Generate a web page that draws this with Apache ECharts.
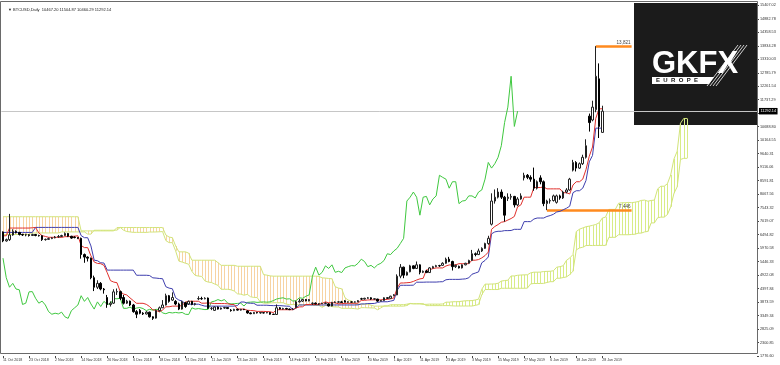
<!DOCTYPE html>
<html><head><meta charset="utf-8">
<script src="https://cdn.jsdelivr.net/npm/echarts@6/dist/echarts.min.js"></script>
<style>html,body{margin:0;padding:0;background:#fff}#c{width:780px;height:365px}</style>
</head><body><div id="c"></div>
<script>
const headerText = '\u25BC BTCUSD,Daily  10467.20 11504.87 10460.29 11292.14';
const xTickLabels = ['11 Oct 2018','23 Oct 2018','2 Nov 2018','14 Nov 2018','26 Nov 2018','6 Dec 2018','18 Dec 2018','31 Dec 2018','11 Jan 2019','23 Jan 2019','4 Feb 2019','14 Feb 2019','26 Feb 2019','8 Mar 2019','20 Mar 2019','1 Apr 2019','11 Apr 2019','23 Apr 2019','3 May 2019','15 May 2019','27 May 2019','6 Jun 2019','18 Jun 2019','28 Jun 2019'];
const yTickValues = [1776.60,2300.85,2825.09,3349.34,3873.59,4397.84,4922.08,5446.33,5970.58,6494.82,7019.07,7543.32,8067.56,8591.81,9116.06,9640.31,10164.55,10688.80,11213.05,11737.29,12261.54,12785.79,13310.03,13834.28,14358.53,14882.78,15407.02];
const hiddenYLabel = 11213.05;

const opens = [6600,6250,6300,6480,6620,6580,6500,6480,6490,6460,
6500,6460,6450,6300,6310,6340,6370,6410,6420,6460,
6540,6430,6400,6380,6350,5720,5620,5580,4820,4450,
4600,4380,4050,3780,3830,4270,4280,4050,3830,3910,
3760,3500,3550,3440,3410,3480,3300,3250,3540,3650,
3760,4120,3950,3900,3800,3600,3850,3800,3900,3780,
4000,4010,4000,4030,3630,3550,3680,3600,3640,3660,
3560,3540,3590,3560,3590,3530,3450,3420,3470,3450,
3460,3450,3470,3400,3390,3650,3600,3620,3600,3580,
3650,3880,3910,3970,3920,3820,3830,3800,3810,3820,
3800,3720,3860,3870,3880,3920,3870,3880,3870,3880,
4000,3990,4020,4040,3990,3990,3910,3930,4040,4020,
4120,4150,4880,5230,4920,5050,5280,5180,5320,5030,
5080,5020,5200,5250,5290,5300,5380,5540,5450,5250,
5260,5200,5320,5380,5490,5750,5720,5860,5960,6150,
6900,7800,7950,8150,7950,7900,7950,7980,7650,7880,
8700,8800,8720,8650,8300,8700,8550,7700,7800,7820,
7750,8000,7920,8150,8230,9000,9300,9080,9250,9500,
11100,10950,11350,12550,10467.20];
const closes = [6250,6300,6480,6620,6580,6500,6480,6490,6460,6500,
6460,6450,6300,6310,6340,6370,6400,6420,6460,6540,
6430,6360,6380,6350,5720,5620,5580,4820,4450,4600,
4380,4350,3780,3830,4270,4280,4020,3830,3910,3760,
3500,3400,3440,3410,3480,3300,3240,3540,3650,3760,
4120,3900,4050,3800,3600,3880,3700,3900,3780,3810,
4010,4000,4020,3630,3630,3680,3600,3640,3660,3620,
3540,3590,3560,3590,3580,3450,3420,3470,3450,3470,
3450,3470,3400,3390,3650,3600,3620,3600,3580,3590,
3880,3910,3970,3920,3970,3830,3800,3810,3820,3830,
3720,3860,3870,3880,3860,3870,3880,3870,3880,3930,
3990,4020,4040,3990,4000,3910,3930,4040,4020,4100,
4150,4880,5230,4920,5030,5280,5180,5320,5030,5070,
5020,5200,5250,5290,5280,5380,5540,5450,5250,5300,
5200,5320,5380,5490,5750,5720,5860,5960,6150,6350,
7800,7950,8150,7950,7250,7950,7980,7650,7880,8000,
8800,8720,8650,8300,8550,8550,7700,7800,7820,8000,
8000,7920,8150,8230,8650,9300,9080,9250,9500,9950,
10850,11450,12650,10700,11292.14];
const lows = [6200,6220,6250,6450,6540,6460,6440,6430,6420,6440,
6430,6420,6250,6260,6290,6320,6350,6370,6400,6440,
6400,6330,6350,6320,5560,5400,5450,4760,4300,4380,
4330,4200,3650,3700,3800,4150,3950,3780,3800,3720,
3460,3250,3400,3370,3390,3270,3180,3230,3500,3640,
3740,3850,3920,3750,3560,3580,3650,3760,3750,3740,
3950,3960,3980,3600,3560,3530,3580,3580,3610,3600,
3500,3520,3540,3540,3560,3420,3400,3410,3430,3420,
3430,3440,3380,3370,3380,3580,3580,3580,3560,3570,
3640,3860,3880,3900,3900,3760,3780,3760,3800,3800,
3700,3710,3840,3850,3840,3860,3850,3850,3850,3870,
3960,3970,4000,3960,3970,3880,3900,3920,4000,4010,
4100,4140,4800,4800,4900,5030,5150,5160,4950,5000,
5000,5010,5180,5230,5240,5280,5360,5420,5100,5200,
5180,5180,5300,5370,5470,5650,5700,5820,5940,6100,
6850,7700,7900,7880,7000,7800,7850,7550,7600,7850,
8600,8650,8550,8200,8250,8450,7600,7446,7700,7780,
7700,7850,7880,8100,8200,8950,8950,9050,9200,9450,
10500,10900,11250,10250,10460.29];
const highs = [6620,6340,7300,6700,6660,6600,6530,6530,6510,6530,
6520,6490,6470,6340,6380,6400,6440,6480,6490,6580,
6560,6450,6430,6400,6380,5760,5650,5600,4900,4720,
4650,4420,4150,3900,4370,4400,4320,4150,3960,3930,
3800,3560,3600,3480,3520,3500,3320,3580,3700,3950,
4200,4150,4250,3950,3850,3920,3880,3930,3920,3840,
4100,4080,4060,4050,3680,3700,3700,3660,3690,3680,
3600,3610,3620,3610,3610,3560,3470,3490,3490,3490,
3480,3490,3480,3420,3780,3680,3650,3650,3620,3640,
3920,4000,3990,3990,3990,3860,3860,3830,3850,3860,
3830,3880,3900,3910,3920,3950,3900,3900,3900,3950,
4040,4040,4070,4060,4020,4000,3950,4060,4050,4120,
4180,4950,5350,5250,5060,5320,5300,5450,5340,5100,
5120,5230,5280,5320,5320,5420,5600,5630,5480,5330,
5290,5340,5400,5520,5900,5800,5950,6000,6180,6450,
8100,8250,8300,8250,8000,8100,8080,8000,7950,8100,
8900,8850,8800,9100,8600,8800,8600,7850,7900,8050,
8050,8050,8200,8300,8700,9400,9350,9300,9600,10200,
11200,11700,13821,13150,11504.87];

const tenkan = [6450,6450,6750,6750,6750,6750,6750,6750,6750,6760,
6775,6560,6455,6425,6390,6390,6390,6390,6385,6415,
6415,6420,6435,6450,6070,5990,5990,5670,5430,5375,
5365,5300,5015,4705,4650,4625,4275,4185,4150,4035,
3930,3825,3825,3825,3785,3700,3570,3555,3490,3565,
3690,3690,3715,3715,3715,3740,3875,3905,3905,3905,
3905,3830,3830,3840,3830,3815,3815,3815,3815,3805,
3780,3775,3600,3600,3600,3555,3545,3540,3510,3510,
3510,3505,3495,3465,3575,3575,3575,3575,3575,3575,
3645,3685,3690,3780,3780,3780,3780,3785,3820,3880,
3845,3845,3845,3805,3810,3825,3825,3825,3825,3830,
3940,3940,3955,3960,3960,3960,3960,3970,3975,4000,
4030,4415,4615,4615,4625,4635,4675,4730,4775,4795,
5125,5125,5175,5200,5200,5200,5275,5315,5315,5320,
5365,5365,5365,5365,5500,5500,5525,5590,5680,5815,
6700,6810,6885,6975,7000,7060,7120,7200,7575,7650,
7950,7950,7950,8325,8325,8325,8350,8273,8273,8273,
8273,8273,8123,8123,8073,8423,8550,8550,8650,9025,
9540,9900,11010,11385,11385];
const kijun = [6580,6580,6580,6580,6580,6580,6580,6580,6580,6580,
6775,6775,6775,6775,6775,6775,6775,6775,6775,6775,
6775,6775,6775,6775,6455,6375,6375,6055,5500,5480,
5400,5390,5115,5115,5115,5115,5115,5115,5115,5115,
5115,4915,4915,4915,4915,4905,4815,4805,4790,4780,
4470,4415,4390,4040,3950,3915,3800,3790,3790,3790,
3790,3750,3715,3715,3715,3715,3715,3715,3715,3715,
3715,3715,3740,3875,3875,3835,3825,3825,3750,3750,
3750,3750,3740,3735,3735,3735,3725,3715,3710,3575,
3645,3760,3760,3760,3760,3760,3760,3760,3760,3760,
3760,3760,3760,3760,3760,3760,3760,3760,3760,3765,
3800,3800,3815,3815,3820,3855,3885,3885,3885,3910,
3940,4325,4525,4525,4525,4525,4530,4645,4645,4645,
4650,4650,4650,4650,4660,4665,4740,4755,4755,4755,
4755,4765,4775,4815,4955,5000,5045,5400,5490,5625,
6525,6600,6625,6625,6650,6650,6655,6700,6700,6700,
7000,7000,7000,7100,7140,7140,7140,7200,7235,7285,
7375,7400,7460,7520,7600,8125,8200,8200,8300,8600,
9323,9573,10633,10633,10633];
const spanA = [6500,6500,6500,6500,6500,6500,6500,6500,6500,6560,
6560,6560,6560,6560,6560,6560,6560,6560,6600,6600,
6600,6600,6600,6600,6600,6600,6515,6515,6665,6665,
6665,6665,6665,6665,6665,6670,6775,6668,6615,6600,
6583,6583,6583,6583,6580,6595,6595,6598,6605,6613,
6263,6183,6183,5863,5465,5428,5383,5345,5065,4910,
4883,4870,4695,4650,4633,4575,4523,4370,4370,4370,
4350,4303,4193,4180,4140,4173,4080,4053,4053,3878,
3833,3828,3838,3848,3848,3848,3848,3790,3773,3778,
3773,3765,3765,3765,3765,3760,3748,3745,3670,3738,
3738,3695,3685,3683,3630,3630,3630,3628,3618,3600,
3655,3655,3650,3645,3643,3575,3645,3723,3725,3770,
3770,3770,3770,3773,3790,3820,3803,3803,3803,3783,
3785,3793,3793,3793,3793,3798,3870,3870,3885,3888,
3890,3908,3923,3928,3930,3955,3985,4370,4570,4570,
4575,4580,4603,4688,4710,4720,4888,4888,4913,4925,
4930,4933,5008,5035,5035,5038,5060,5065,5070,5090,
5228,5250,5285,5495,5585,5720,6613,6705,6755,6800,
6825,6855,6888,6950,7138,7175,7475,7475,7475,7713,
7733,7733,7745,7737,7754,7779,7824,7837,7792,7822,
7837,8274,8375,8375,8475,8813,9432,9737,10822,11009,11009];
const spanB = [7190,7190,7190,7190,7190,7190,7190,7190,7190,7190,
7190,7190,7190,7190,7190,7190,7190,7190,7190,7190,
7190,7190,7190,7190,6640,6640,6640,6640,6640,6640,
6640,6640,6640,6640,6640,6770,6770,6770,6770,6770,
6770,6770,6770,6770,6770,6770,6770,6770,6770,6770,
6480,6400,6375,6055,5825,5825,5825,5775,5500,5500,
5500,5500,5500,5500,5500,5500,5405,5300,5300,5300,
5300,5300,5265,5265,5265,5265,5265,5265,5265,5265,
4940,4920,4890,4880,4880,4880,4880,4880,4880,4880,
4880,4880,4880,4880,4880,4880,4880,4870,4815,4805,
4790,4780,4470,4415,4390,4040,3950,3915,3800,3790,
3790,3790,3790,3750,3715,3715,3715,3715,3715,3715,
3715,3715,3715,3715,3740,3810,3810,3810,3810,3810,
3735,3735,3735,3735,3735,3735,3735,3735,3725,3720,
3720,3720,3720,3720,3720,3745,3775,4160,4360,4360,
4360,4360,4360,4410,4410,4410,4410,4410,4410,4410,
4410,4415,4580,4595,4595,4595,4600,4635,4665,4665,
4800,4800,4825,4850,4940,5075,5900,5975,6005,6070,
6075,6070,6075,6075,6075,6075,6385,6390,6390,6490,
6490,6490,6490,6500,6510,6550,6555,6600,6620,6950,
6950,7150,7175,7175,7275,7575,8100,8350,9415,9460,9460];
const chikouShift = 26;
const lastPrice = 11292.14;
const levelValues = [13821, 7446];
const levelLabels = ['13,821', '7,446'];
const levelFrom = [182, 167];
const levelTo = [193, 193];

// ---- categories (broker weekday sessions) ----
const monthNames = ['Jan','Feb','Mar','Apr','May','Jun','Jul','Aug','Sep','Oct','Nov','Dec'];
const skipDays = ['2018-12-25', '2019-01-01'];
const nCategories = 232;
const categories = [];
{
  const d = new Date(Date.UTC(2018, 9, 11));
  while (categories.length < nCategories) {
    const wd = d.getUTCDay();
    const key = d.toISOString().slice(0, 10);
    if (wd !== 0 && wd !== 6 && skipDays.indexOf(key) < 0) {
      categories.push(d.getUTCDate() + ' ' + monthNames[d.getUTCMonth()] + ' ' + d.getUTCFullYear());
    }
    d.setUTCDate(d.getUTCDate() + 1);
  }
}

const candleData = opens.map((o, i) => [o, closes[i], lows[i], highs[i]]);
const chikou = closes.slice(chikouShift);
const kumo = spanA.map((a, i) => [i, a, spanB[i]]);
const yLabelValues = yTickValues.filter(v => v !== hiddenYLabel);
const showTick = (idx, val) => xTickLabels.indexOf(val) >= 0;

const COL = {
  tenkan: '#e0302c', kijun: '#3e3eae', chikou: '#3fc83f',
  span: '#d2e47a', kumoUp: '#d8ec86', kumoDown: '#f7d3a2',
  level: '#ff8a1e', text: '#333'
};
const fontFam = '"Liberation Sans", Arial, sans-serif';

const levelMarks = levelValues.map((v, k) => [
  { coord: [levelFrom[k], v],
    lineStyle: { color: COL.level, width: 2.5, type: 'solid' },
    label: { show: true, position: 'insideEndTop', formatter: levelLabels[k], fontSize: 4.6, color: '#444', distance: 1, fontFamily: fontFam } },
  { coord: [levelTo[k], v] }
]);

const chart = echarts.init(document.getElementById('c'), null, { renderer: 'canvas' });
chart.setOption({
  animation: false,
  backgroundColor: '#fff',
  title: { text: headerText, left: 3, top: 3, textStyle: { fontSize: 4, color: '#222', fontWeight: 'normal', fontFamily: fontFam } },
  grid: { left: 0, right: 23, top: 5, bottom: 9, containLabel: false },
  xAxis: {
    type: 'category', data: categories, boundaryGap: true,
    axisLine: { show: false },
    axisTick: { show: true, interval: showTick, alignWithLabel: true, length: 2, lineStyle: { color: '#444' } },
    axisLabel: { interval: showTick, fontSize: 3.6, color: COL.text, align: 'left', margin: 2, fontFamily: fontFam },
    splitLine: { show: false }
  },
  yAxis: {
    type: 'value', position: 'right', min: 1776.6, max: 15420, scale: true,
    axisLine: { show: false },
    axisTick: { show: true, length: 2, customValues: yTickValues, lineStyle: { color: '#444' } },
    axisLabel: { customValues: yLabelValues, fontSize: 3.8, color: COL.text, margin: 3, fontFamily: fontFam, formatter: v => v.toFixed(2) },
    splitLine: { show: false }
  },
  graphic: [
    { type: 'rect', z: 50, silent: true, shape: { x: 0.5, y: 1.5, width: 757, height: 352 }, style: { fill: 'none', stroke: '#6a6a6a', lineWidth: 1 } },
    { type: 'group', z: 100, silent: true, children: [
      { type: 'rect', shape: { x: 634, y: 3, width: 123, height: 122 }, style: { fill: '#1b1b1b' } },
      { type: 'text', style: { x: 652, y: 64, text: 'GKFX', font: 'bold 31px ' + fontFam, fill: '#fff', align: 'left', verticalAlign: 'middle', textAlign: 'left', textVerticalAlign: 'middle' } },
      { type: 'polygon', shape: { points: [[652, 77], [714, 77], [709, 84], [652, 84]] }, style: { fill: '#fff' } },
      { type: 'text', style: { x: 656, y: 80.7, text: 'E  U  R  O  P  E', font: 'bold 6px ' + fontFam, fill: '#111', align: 'left', verticalAlign: 'middle', textAlign: 'left', textVerticalAlign: 'middle' } },
      { type: 'line', shape: { x1: 707, y1: 86, x2: 738, y2: 45 }, style: { stroke: '#fff', lineWidth: 0.8 } },
      { type: 'line', shape: { x1: 710, y1: 86, x2: 741, y2: 45 }, style: { stroke: '#fff', lineWidth: 0.8 } },
      { type: 'line', shape: { x1: 713, y1: 86, x2: 744, y2: 45 }, style: { stroke: '#fff', lineWidth: 0.8 } },
      { type: 'line', shape: { x1: 716, y1: 86, x2: 747, y2: 45 }, style: { stroke: '#fff', lineWidth: 0.8 } }
    ] }
  ],
  series: [
    {
      type: 'custom', name: 'Kumo', data: kumo, z: 1, silent: true,
      encode: { x: 0, y: [1, 2] },
      renderItem: function (params, api) {
        const i = api.value(0);
        const pa = api.coord([i, api.value(1)]);
        const pb = api.coord([i, api.value(2)]);
        const x = Math.round(pa[0]) + 0.5;
        return { type: 'line', shape: { x1: x, y1: pa[1], x2: x, y2: pb[1] },
          style: { stroke: api.value(1) >= api.value(2) ? COL.kumoUp : COL.kumoDown, lineWidth: 1 } };
      }
    },
    { type: 'line', name: 'Senkou A', data: spanA, z: 2, symbol: 'none', silent: true, lineStyle: { color: COL.span, width: 1 } },
    { type: 'line', name: 'Senkou B', data: spanB, z: 2, symbol: 'none', silent: true, lineStyle: { color: COL.span, width: 1 } },
    { type: 'line', name: 'Chikou', data: chikou, z: 3, symbol: 'none', silent: true, lineStyle: { color: COL.chikou, width: 1 } },
    { type: 'line', name: 'Kijun', data: kijun, z: 3, symbol: 'none', silent: true, lineStyle: { color: COL.kijun, width: 1 } },
    { type: 'line', name: 'Tenkan', data: tenkan, z: 3, symbol: 'none', silent: true, lineStyle: { color: COL.tenkan, width: 1 } },
    {
      type: 'candlestick', name: 'BTCUSD', data: candleData, z: 4, clip: false, barWidth: 2,
      itemStyle: { color: '#ffffff', color0: '#000000', borderColor: '#222', borderColor0: '#000', borderWidth: 1 },
      markLine: {
        symbol: ['none', 'none'], silent: true, animation: false, z: 3,
        data: [
          { yAxis: lastPrice, lineStyle: { color: '#c6c6c6', width: 1, type: 'solid' },
            label: { show: true, position: 'end', formatter: lastPrice.toFixed(2), backgroundColor: '#000', color: '#fff', fontSize: 3.8, padding: [1.5, 1.5, 1, 1.5], distance: 2, fontFamily: fontFam } }
        ].concat(levelMarks)
      }
    }
  ]
});
</script>
</body></html>
